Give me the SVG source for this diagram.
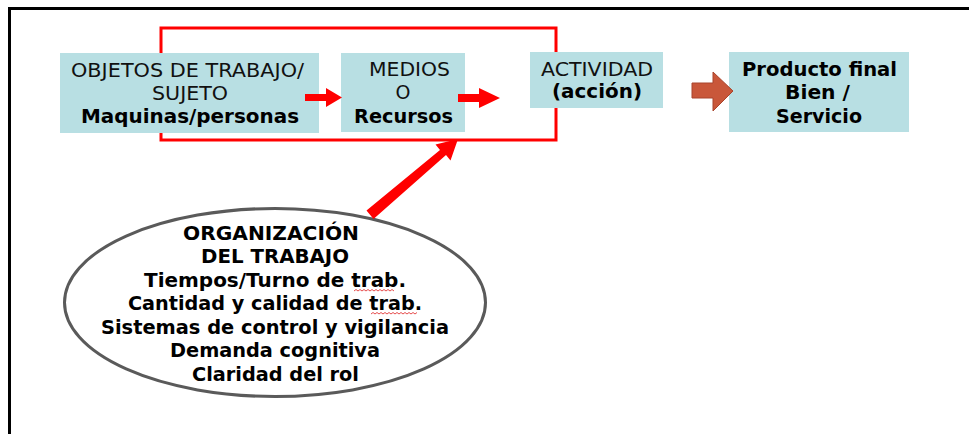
<svg xmlns="http://www.w3.org/2000/svg" width="969" height="434" viewBox="0 0 969 434">
<style>
.box{fill:#b8dfe3}
.t{font-family:"DejaVu Sans",Verdana,sans-serif;font-size:19px;fill:#111;text-anchor:middle}
.b{font-weight:bold;fill:#000}
.e{font-family:"DejaVu Sans",Verdana,sans-serif;font-size:19px;font-weight:bold;fill:#000;text-anchor:middle}
.red{fill:#ff0000}
.sq{fill:none;stroke:#e02020;stroke-width:0.8}
</style>
<rect width="969" height="434" fill="#fff"/>
<g id="frame">
<path d="M9.5 434 V8.5 H969" fill="none" stroke="#000" stroke-width="3"/>
</g>
<g id="group-frame">
<rect x="161" y="28" width="395" height="112" fill="none" stroke="#ff0000" stroke-width="3"/>
</g>
<g id="objetos">
<rect class="box" x="60" y="53" width="259" height="80"/>
<text class="t" x="187.5" y="77" textLength="233" lengthAdjust="spacingAndGlyphs">OBJETOS DE TRABAJO/</text>
<text class="t" x="190" y="100" textLength="76" lengthAdjust="spacingAndGlyphs">SUJETO</text>
<text class="t b" x="190" y="123" textLength="218" lengthAdjust="spacingAndGlyphs">Maquinas/personas</text>
</g>
<g id="medios">
<rect class="box" x="341" y="53" width="124" height="79"/>
<text class="t" x="409.5" y="76" textLength="81" lengthAdjust="spacingAndGlyphs">MEDIOS</text>
<text class="t" x="403" y="99">O</text>
<text class="t b" x="403.5" y="123" textLength="99" lengthAdjust="spacingAndGlyphs">Recursos</text>
</g>
<g id="actividad">
<rect class="box" x="530" y="52" width="133" height="56"/>
<text class="t" x="597" y="76" textLength="112" lengthAdjust="spacingAndGlyphs">ACTIVIDAD</text>
<text class="t b" x="597" y="98" textLength="90" lengthAdjust="spacingAndGlyphs">(acción)</text>
</g>
<g id="producto">
<rect class="box" x="729" y="52" width="180" height="80"/>
<text class="t b" x="819.5" y="76" textLength="155" lengthAdjust="spacingAndGlyphs">Producto final</text>
<text class="t b" x="817.5" y="99" textLength="65" lengthAdjust="spacingAndGlyphs">Bien /</text>
<text class="t b" x="819" y="123" textLength="86" lengthAdjust="spacingAndGlyphs">Servicio</text>
</g>
<g id="organizacion">
<ellipse cx="275" cy="302.5" rx="210.5" ry="94" fill="#fff" stroke="#5a5a5a" stroke-width="3"/>
<text class="e" x="271" y="240" textLength="176" lengthAdjust="spacingAndGlyphs">ORGANIZACIÓN</text>
<text class="e" x="275" y="263" textLength="148" lengthAdjust="spacingAndGlyphs">DEL TRABAJO</text>
<text class="e" x="275" y="287" textLength="262" lengthAdjust="spacingAndGlyphs">Tiempos/Turno de trab.</text>
<text class="e" x="275" y="310" textLength="294" lengthAdjust="spacingAndGlyphs">Cantidad y calidad de trab.</text>
<text class="e" x="275" y="334" textLength="348" lengthAdjust="spacingAndGlyphs">Sistemas de control y vigilancia</text>
<text class="e" x="275" y="357" textLength="210" lengthAdjust="spacingAndGlyphs">Demanda cognitiva</text>
<text class="e" x="275.5" y="381" textLength="167" lengthAdjust="spacingAndGlyphs">Claridad del rol</text>
<path class="sq" d="M354 291 l2 -1.5 l2 1.5 l2 -1.5 l2 1.5 l2 -1.5 l2 1.5 l2 -1.5 l2 1.5 l2 -1.5 l2 1.5 l2 -1.5 l2 1.5 l2 -1.5 l2 1.5 l2 -1.5 l2 1.5 l2 -1.5 l2 1.5 l2 -1.5 l2 1.5"/>
<path class="sq" d="M371 314 l2 -1.5 l2 1.5 l2 -1.5 l2 1.5 l2 -1.5 l2 1.5 l2 -1.5 l2 1.5 l2 -1.5 l2 1.5 l2 -1.5 l2 1.5 l2 -1.5 l2 1.5 l2 -1.5 l2 1.5 l2 -1.5 l2 1.5 l2 -1.5 l2 1.5 l2 -1.5 l2 1.5 l2 -1.5"/>
</g>
<g id="connectors">
<polygon class="red" points="305,94 326,94 326,88 342,97.5 326,107 326,101 305,101"/>
<polygon class="red" points="458,94 479,94 479,88 500,98 479,108 479,102 458,102"/>
<polygon points="692,83 713,83 713,72 733,91 713,111 713,98 692,98" fill="#c9573a" stroke="#a9442c" stroke-width="1"/>
<polygon class="red" points="366.5,210.5 440,150 435.5,144.5 458,139 450.5,160.5 446,155 373.5,219"/>
</g>
</svg>
